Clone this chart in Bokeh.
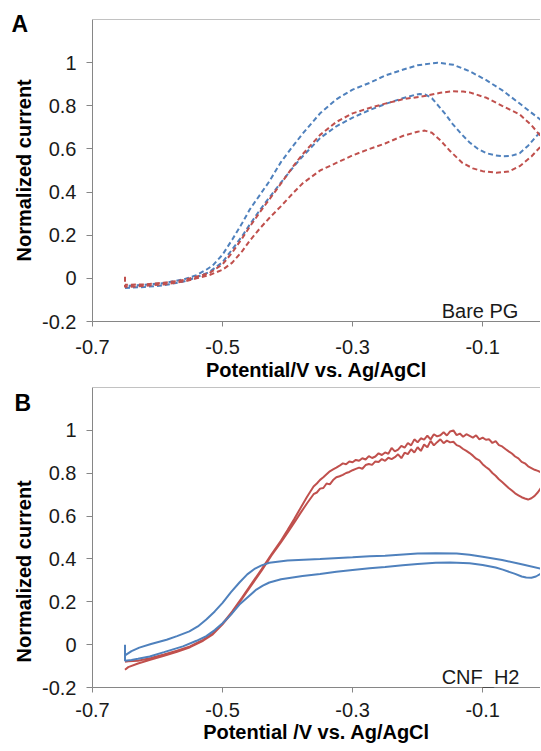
from bokeh.plotting import figure
from bokeh.layouts import column
from bokeh.models import FixedTicker, Range1d, Label, Span, CustomJSTickFormatter, Title
from bokeh.embed import file_html
from bokeh.resources import INLINE

# ---------------- data ----------------
x_ticks = [-0.7, -0.5, -0.3, -0.1]
y_ticks = [-0.2, 0.0, 0.2, 0.4, 0.6, 0.8, 1.0]

# Panel A (Bare PG) - dashed
a_blue_fwd_v = [-0.650, -0.620, -0.590, -0.560, -0.540, -0.520, -0.500, -0.485, -0.470, -0.458, -0.443, -0.428,
                -0.410, -0.390, -0.377, -0.350, -0.325, -0.300, -0.274, -0.250, -0.223, -0.205, -0.197, -0.188,
                -0.178, -0.168, -0.157, -0.146, -0.133, -0.120, -0.107, -0.094, -0.080, -0.069, -0.056, -0.043,
                -0.030, -0.020, -0.011]
a_blue_fwd_i = [-0.045, -0.040, -0.032, -0.015, 0.005, 0.030, 0.075, 0.135, 0.195, 0.250, 0.315, 0.375,
                0.445, 0.520, 0.565, 0.650, 0.705, 0.745, 0.780, 0.808, 0.835, 0.850, 0.855, 0.852,
                0.835, 0.800, 0.760, 0.715, 0.670, 0.630, 0.600, 0.580, 0.570, 0.566, 0.568, 0.580,
                0.615, 0.650, 0.680]
a_blue_rev_v = [-0.650, -0.620, -0.590, -0.560, -0.540, -0.525, -0.515, -0.500, -0.485, -0.470, -0.458, -0.443,
                -0.428, -0.410, -0.390, -0.377, -0.350, -0.325, -0.300, -0.274, -0.250, -0.223, -0.200, -0.169,
                -0.145, -0.120, -0.095, -0.069, -0.045, -0.028, -0.011]
a_blue_rev_i = [-0.035, -0.030, -0.022, -0.005, 0.015, 0.040, 0.060, 0.110, 0.180, 0.255, 0.320, 0.385,
                0.450, 0.540, 0.620, 0.670, 0.765, 0.830, 0.875, 0.906, 0.940, 0.967, 0.988, 1.000,
                0.990, 0.960, 0.920, 0.870, 0.815, 0.775, 0.736]
a_blue_vertex = (0.0, 0.71)

a_red_start = (-0.650, 0.008)
a_red_fwd_v = [-0.650, -0.620, -0.590, -0.560, -0.540, -0.520, -0.500, -0.485, -0.470, -0.458, -0.443, -0.428,
               -0.410, -0.390, -0.377, -0.350, -0.325, -0.300, -0.274, -0.250, -0.223, -0.200, -0.189, -0.178,
               -0.165, -0.150, -0.131, -0.115, -0.100, -0.079, -0.060, -0.043, -0.025, -0.011]
a_red_fwd_i = [-0.040, -0.035, -0.028, -0.015, 0.000, 0.015, 0.040, 0.073, 0.125, 0.175, 0.230, 0.280,
               0.335, 0.400, 0.440, 0.500, 0.535, 0.570, 0.600, 0.625, 0.660, 0.680, 0.685, 0.675,
               0.640, 0.590, 0.535, 0.510, 0.497, 0.490, 0.495, 0.520, 0.565, 0.610]
a_red_rev_v = [-0.650, -0.620, -0.590, -0.560, -0.540, -0.520, -0.500, -0.485, -0.470, -0.458, -0.443, -0.428,
               -0.410, -0.390, -0.377, -0.350, -0.325, -0.300, -0.274, -0.250, -0.223, -0.186, -0.165, -0.148,
               -0.130, -0.120, -0.094, -0.070, -0.043, -0.025, -0.011]
a_red_rev_i = [-0.030, -0.028, -0.020, -0.008, 0.008, 0.025, 0.065, 0.120, 0.185, 0.240, 0.305, 0.366,
               0.440, 0.525, 0.575, 0.665, 0.725, 0.765, 0.790, 0.810, 0.830, 0.847, 0.860, 0.867,
               0.866, 0.862, 0.837, 0.800, 0.760, 0.710, 0.660]
a_red_vertex = (0.0, 0.63)

# Panel B (CNF_H2) - solid
b_blue_start = (-0.650, 0.000)
b_blue_fwd_v = [-0.650, -0.640, -0.630, -0.612, -0.590, -0.561, -0.540, -0.525, -0.512, -0.500, -0.487, -0.474,
                -0.460, -0.448, -0.438, -0.428, -0.410, -0.377, -0.350, -0.325, -0.300, -0.274, -0.250, -0.223,
                -0.200, -0.172, -0.150, -0.120, -0.100, -0.080, -0.069, -0.050, -0.040, -0.033, -0.025, -0.018,
                -0.011]
b_blue_fwd_i = [-0.075, -0.072, -0.066, -0.055, -0.035, -0.008, 0.018, 0.040, 0.068, 0.100, 0.140, 0.187,
                0.225, 0.257, 0.275, 0.290, 0.305, 0.320, 0.330, 0.340, 0.348, 0.356, 0.362, 0.370,
                0.376, 0.382, 0.383, 0.380, 0.372, 0.360, 0.350, 0.330, 0.318, 0.313, 0.312, 0.318,
                0.330]
b_blue_rev_v = [-0.650, -0.640, -0.628, -0.610, -0.586, -0.570, -0.551, -0.538, -0.525, -0.512, -0.500, -0.487,
                -0.474, -0.462, -0.450, -0.440, -0.428, -0.400, -0.350, -0.300, -0.274, -0.250, -0.200, -0.172,
                -0.140, -0.120, -0.100, -0.070, -0.040, -0.011]
b_blue_rev_i = [-0.050, -0.030, -0.014, 0.003, 0.023, 0.040, 0.062, 0.085, 0.117, 0.155, 0.195, 0.245,
                0.290, 0.328, 0.355, 0.370, 0.382, 0.393, 0.400, 0.408, 0.413, 0.415, 0.425, 0.427,
                0.425, 0.420, 0.410, 0.395, 0.375, 0.355]
b_blue_vertex = (0.0, 0.345)

b_red_left_v = [-0.650, -0.645, -0.630, -0.610, -0.590, -0.570, -0.550, -0.530, -0.515, -0.500, -0.485, -0.470,
                -0.455, -0.440, -0.425, -0.410, -0.400, -0.390, -0.380, -0.370]
b_red_fwd_left_i = [-0.117, -0.105, -0.088, -0.070, -0.052, -0.033, -0.012, 0.018, 0.048, 0.095, 0.150, 0.215,
                    0.280, 0.345, 0.415, 0.478, 0.522, 0.568, 0.615, 0.660]
b_red_rev_left_i = [-0.080, -0.078, -0.075, -0.062, -0.046, -0.028, -0.008, 0.022, 0.052, 0.098, 0.155, 0.220,
                    0.286, 0.352, 0.420, 0.486, 0.535, 0.585, 0.638, 0.690]
b_red_noisy_v = [-0.360, -0.355, -0.350, -0.345, -0.340, -0.335, -0.330, -0.325, -0.320, -0.315, -0.310, -0.305,
                 -0.300, -0.295, -0.290, -0.285, -0.280, -0.275, -0.270, -0.265, -0.260, -0.255, -0.250, -0.245,
                 -0.240, -0.235, -0.230, -0.225, -0.220, -0.215, -0.210, -0.205, -0.200, -0.195, -0.190, -0.185,
                 -0.180, -0.175, -0.170, -0.165, -0.160, -0.155, -0.150, -0.145, -0.140, -0.135, -0.130, -0.125,
                 -0.120, -0.115, -0.110, -0.105, -0.100, -0.095, -0.090, -0.085, -0.080, -0.075, -0.070, -0.065,
                 -0.060, -0.055, -0.050, -0.045, -0.040, -0.035, -0.030, -0.025, -0.020, -0.015, -0.010]
b_red_fwd_noisy_i = [0.702, 0.710, 0.728, 0.731, 0.752, 0.748, 0.768, 0.781, 0.786, 0.792, 0.801, 0.806,
                     0.814, 0.820, 0.826, 0.821, 0.838, 0.843, 0.839, 0.855, 0.852, 0.866, 0.858, 0.872,
                     0.866, 0.875, 0.888, 0.870, 0.896, 0.889, 0.912, 0.897, 0.921, 0.904, 0.934, 0.921,
                     0.951, 0.930, 0.945, 0.958, 0.940, 0.952, 0.944, 0.947, 0.931, 0.925, 0.913, 0.904,
                     0.894, 0.882, 0.868, 0.860, 0.842, 0.829, 0.818, 0.801, 0.788, 0.772, 0.759, 0.745,
                     0.731, 0.719, 0.706, 0.697, 0.688, 0.682, 0.677, 0.683, 0.694, 0.711, 0.733]
b_red_rev_noisy_i = [0.738, 0.752, 0.769, 0.781, 0.795, 0.809, 0.818, 0.826, 0.835, 0.846, 0.842, 0.855,
                     0.851, 0.862, 0.858, 0.870, 0.864, 0.880, 0.871, 0.878, 0.893, 0.885, 0.897, 0.891,
                     0.918, 0.902, 0.910, 0.928, 0.919, 0.941, 0.930, 0.958, 0.944, 0.963, 0.957, 0.975,
                     0.958, 0.982, 0.972, 0.977, 0.991, 0.976, 0.995, 1.000, 0.978, 0.985, 0.970, 0.982,
                     0.974, 0.966, 0.977, 0.958, 0.966, 0.956, 0.958, 0.941, 0.950, 0.931, 0.925, 0.913,
                     0.902, 0.892, 0.878, 0.869, 0.853, 0.846, 0.832, 0.824, 0.816, 0.811, 0.803]
b_red_vertex = (0.0, 0.77)

# ---------------- style ----------------
BLUE = "#4F81BD"
RED = "#C0504D"
AXIS = "#868686"
FONT = "Liberation Sans"
TXT = "#1a1a1a"


def loop(start, fwd_v, fwd_i, vertex, rev_v, rev_i):
    xs, ys = [], []
    if start is not None:
        xs.append(start[0]); ys.append(start[1])
    xs += list(fwd_v); ys += list(fwd_i)
    xs.append(vertex[0]); ys.append(vertex[1])
    xs += list(rev_v)[::-1]; ys += list(rev_i)[::-1]
    return xs, ys


def make_panel(height, top, bottom, tick_standoff, title_standoff, xlabel,
               letter, letter_offset, letter_standoff, ytitle_offset, tag):
    p = figure(width=540, height=height, x_range=Range1d(-0.7, -0.011), y_range=Range1d(-0.2, 1.2),
               output_backend="svg", toolbar_location=None,
               min_border_left=92, min_border_right=0, min_border_top=top, min_border_bottom=bottom)
    p.outline_line_color = None
    p.background_fill_color = "white"
    p.border_fill_color = "white"
    p.xgrid.visible = False
    p.ygrid.visible = False
    p.xaxis.ticker = FixedTicker(ticks=x_ticks)
    p.yaxis.ticker = FixedTicker(ticks=y_ticks)
    p.xaxis.formatter = CustomJSTickFormatter(code="return String(Math.round(tick*10)/10)")
    p.yaxis.formatter = CustomJSTickFormatter(code="return String(Math.round(tick*10)/10)")
    for ax in (p.xaxis[0], p.yaxis[0]):
        ax.axis_line_color = AXIS
        ax.major_tick_line_color = AXIS
        ax.minor_tick_line_color = None
        ax.major_tick_in = 0
        ax.major_label_text_font = FONT
        ax.major_label_text_font_size = "20px"
        ax.major_label_text_color = TXT
    p.xaxis.major_tick_out = 5
    p.yaxis.major_tick_out = 6
    p.yaxis.major_label_standoff = 10
    p.xaxis.major_label_standoff = tick_standoff
    p.xaxis.axis_label = xlabel
    p.xaxis.axis_label_standoff = title_standoff
    p.xaxis.axis_label_text_font = FONT
    p.xaxis.axis_label_text_font_size = "20px"
    p.xaxis.axis_label_text_font_style = "bold"
    p.xaxis.axis_label_text_color = "black"
    # panel letter as the figure title, pulled down beside the frame
    p.title.text = letter
    p.title.align = "left"
    p.title.offset = letter_offset
    p.title.standoff = letter_standoff
    p.title.text_font = FONT
    p.title.text_font_size = "23px"
    p.title.text_font_style = "bold"
    p.title.text_color = "black"
    # y-axis title
    yt = Title(text="Normalized current", align="left", offset=ytitle_offset, standoff=10,
               text_font=FONT, text_font_size="20px", text_font_style="bold", text_color="black")
    p.add_layout(yt, "left")
    p.add_layout(Span(location=1.2, dimension="width", line_color=AXIS, line_width=1))
    p.add_layout(Label(x=-0.163, y=-0.153, text=tag, text_font=FONT, text_font_size="20px",
                       text_color=TXT, text_align="left", text_baseline="alphabetic"))
    return p


pA = make_panel(386, 19, 65, 13, 2, "Potential/V vs. Ag/AgCl", "A", -81, -34, 60, "Bare PG")
bx, by = loop(None, a_blue_fwd_v, a_blue_fwd_i, a_blue_vertex, a_blue_rev_v, a_blue_rev_i)
pA.line(bx, by, line_color=BLUE, line_width=2, line_dash="5 3")
rx, ry = loop(a_red_start, a_red_fwd_v, a_red_fwd_i, a_red_vertex, a_red_rev_v, a_red_rev_i)
pA.line(rx, ry, line_color=RED, line_width=2, line_dash="5 3")

pB = make_panel(362, 1, 61, 10, 1, "Potential /V vs. Ag/AgCl", "B", -78, -56, 25, "CNF_H2")
b_red_fwd_v = b_red_left_v + b_red_noisy_v
b_red_fwd_i = b_red_fwd_left_i + b_red_fwd_noisy_i
b_red_rev_v = b_red_left_v + b_red_noisy_v
b_red_rev_i = b_red_rev_left_i + b_red_rev_noisy_i
rx, ry = loop(None, b_red_fwd_v, b_red_fwd_i, b_red_vertex, b_red_rev_v, b_red_rev_i)
pB.line(rx, ry, line_color=RED, line_width=2)
bx, by = loop(b_blue_start, b_blue_fwd_v, b_blue_fwd_i, b_blue_vertex, b_blue_rev_v, b_blue_rev_i)
pB.line(bx, by, line_color=BLUE, line_width=2)

layout = column(pA, pB, spacing=0)
open("out.html", "w").write(file_html(layout, INLINE))
